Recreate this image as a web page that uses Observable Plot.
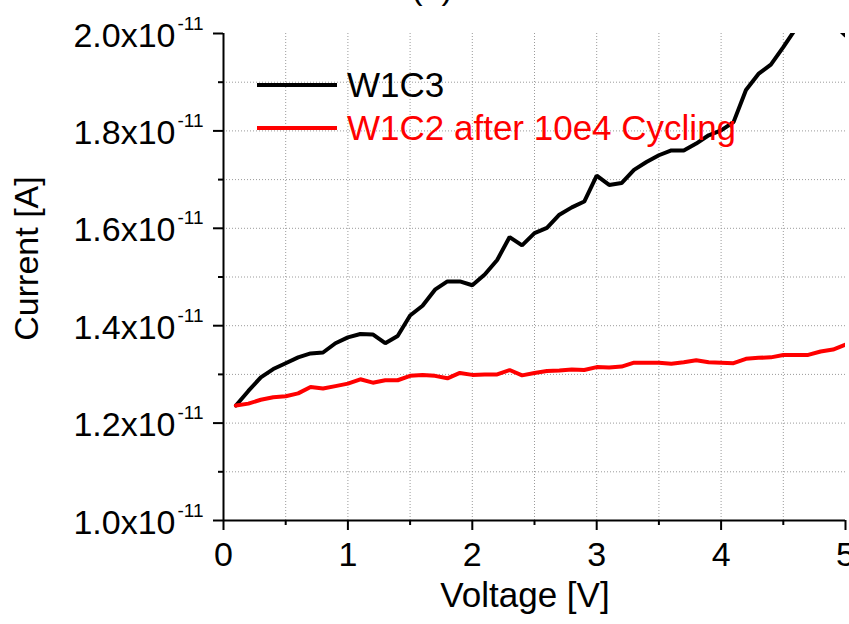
<!DOCTYPE html>
<html>
<head>
<meta charset="utf-8">
<script src="https://cdn.jsdelivr.net/npm/d3@7"></script>
<script src="https://cdn.jsdelivr.net/npm/@observablehq/plot@0.6"></script>
<style>
  html, body { margin: 0; padding: 0; background: #fff; }
  #wrap { position: relative; width: 849px; height: 624px; overflow: hidden; }
  #overlay { position: absolute; left: 0; top: 0; pointer-events: none; }
  text { font-family: "Liberation Sans", Arial, Helvetica, sans-serif; }
</style>
</head>
<body>
<div id="wrap"></div>
<script>
// Voltage sweep steps [V]
const voltage = [
  0.1, 0.2, 0.3, 0.4, 0.5, 0.6, 0.7, 0.8, 0.9, 1.0,
  1.1, 1.2, 1.3, 1.4, 1.5, 1.6, 1.7, 1.8, 1.9, 2.0,
  2.1, 2.2, 2.3, 2.4, 2.5, 2.6, 2.7, 2.8, 2.9, 3.0,
  3.1, 3.2, 3.3, 3.4, 3.5, 3.6, 3.7, 3.8, 3.9, 4.0,
  4.1, 4.2, 4.3, 4.4, 4.5, 4.6, 4.7, 4.8, 4.9, 5.0
];

// Measured current, in units of 1e-11 A
const currentW1C3 = [
  1.236, 1.266, 1.294, 1.311, 1.323, 1.335, 1.343, 1.345, 1.364, 1.376,
  1.383, 1.382, 1.364, 1.379, 1.421, 1.441, 1.474, 1.491, 1.491, 1.483,
  1.505, 1.535, 1.582, 1.565, 1.590, 1.601, 1.628, 1.643, 1.655, 1.708,
  1.689, 1.693, 1.720, 1.736, 1.750, 1.760, 1.760, 1.774, 1.791, 1.801,
  1.818, 1.884, 1.917, 1.936, 1.972, 2.010, 2.040, 2.055, 2.020, 1.996
];
const currentW1C2 = [
  1.236, 1.240, 1.248, 1.253, 1.255, 1.261, 1.274, 1.271, 1.276, 1.281,
  1.290, 1.283, 1.288, 1.288, 1.297, 1.299, 1.297, 1.292, 1.303, 1.299,
  1.300, 1.300, 1.309, 1.298, 1.303, 1.307, 1.308, 1.310, 1.309, 1.315,
  1.314, 1.316, 1.324, 1.324, 1.324, 1.322, 1.325, 1.329, 1.325, 1.324,
  1.323, 1.332, 1.334, 1.335, 1.340, 1.340, 1.340, 1.347, 1.351, 1.361
];

const unit = 1e-11;
const seriesNames = ["W1C3", "W1C2 after 10e4 Cycling"];
const seriesColors = ["#000000", "#ff0000"];

// Axis ticks
const xMajor = [0, 1, 2, 3, 4, 5];
const xMinor = [0.5, 1.5, 2.5, 3.5, 4.5];
const yMajor = [1.0, 1.2, 1.4, 1.6, 1.8, 2.0];
const yMinor = [1.1, 1.3, 1.5, 1.7, 1.9];
const xGrid = [0.5, 1, 1.5, 2, 2.5, 3, 3.5, 4, 4.5];
const yGrid = [1.1, 1.2, 1.3, 1.4, 1.5, 1.6, 1.7, 1.8, 1.9];

const rows = (vals, name) => voltage.map((v, i) => ({v, i: vals[i] * unit, name}));
const w1c3 = rows(currentW1C3, seriesNames[0]);
const w1c2 = rows(currentW1C2, seriesNames[1]);

const grid = {stroke: "#9a9a9a", strokeWidth: 1, strokeDasharray: "1,2"};
const font = "'Liberation Sans', Arial, Helvetica, sans-serif";

const chart = Plot.plot({
  width: 849,
  height: 624,
  marginLeft: 223,
  marginRight: 4,
  marginTop: 33,
  marginBottom: 104,
  style: {fontFamily: font, background: "#fff", color: "#000"},
  x: {domain: [0, 5]},
  y: {domain: [1.0 * unit, 2.0 * unit]},
  marks: [
    // dotted grid
    Plot.ruleX(xGrid, {x: d => d, ...grid}),
    Plot.ruleY(yGrid, {y: d => d * unit, ...grid}),
    // axis lines
    Plot.ruleX([0], {strokeWidth: 2}),
    Plot.ruleY([1.0 * unit], {strokeWidth: 2}),
    // outward ticks
    Plot.axisX(xMajor, {anchor: "bottom", tickSize: 10, strokeWidth: 2, tickFormat: () => "", label: null}),
    Plot.axisX(xMinor, {anchor: "bottom", tickSize: 5, strokeWidth: 2, tickFormat: () => "", label: null}),
    Plot.axisY(yMajor.map(d => d * unit), {anchor: "left", tickSize: 10, strokeWidth: 2, tickFormat: () => "", label: null}),
    Plot.axisY(yMinor.map(d => d * unit), {anchor: "left", tickSize: 5, strokeWidth: 2, tickFormat: () => "", label: null}),
    // tick labels
    Plot.text(xMajor, {
      x: d => d, frameAnchor: "bottom", text: d => String(d),
      lineAnchor: "bottom", dy: 45, fontSize: 34, fill: "#000"
    }),
    Plot.text(yMajor, {
      y: d => d * unit, frameAnchor: "left", text: d => d.toFixed(1) + "x10",
      textAnchor: "end", lineAnchor: "bottom", dx: -48, dy: 13, fontSize: 34, fill: "#000"
    }),
    Plot.text(yMajor, {
      y: d => d * unit, frameAnchor: "left", text: () => "-11",
      textAnchor: "start", lineAnchor: "bottom", dx: -46, dy: -4, fontSize: 19, fill: "#000"
    }),
    // measured curves
    Plot.line(w1c3, {x: "v", y: "i", stroke: seriesColors[0], strokeWidth: 4, strokeLinejoin: "miter", clip: true}),
    Plot.line(w1c2, {x: "v", y: "i", stroke: seriesColors[1], strokeWidth: 4, strokeLinejoin: "miter", clip: true})
  ]
});

const wrap = document.getElementById("wrap");
wrap.appendChild(chart);

// Titles and legend layered over the plot
const ns = "http://www.w3.org/2000/svg";
const overlay = document.createElementNS(ns, "svg");
overlay.setAttribute("id", "overlay");
overlay.setAttribute("width", 849);
overlay.setAttribute("height", 624);
function addText(str, attrs) {
  const t = document.createElementNS(ns, "text");
  for (const k in attrs) t.setAttribute(k, attrs[k]);
  t.textContent = str;
  overlay.appendChild(t);
  return t;
}
function addLine(attrs) {
  const l = document.createElementNS(ns, "line");
  for (const k in attrs) l.setAttribute(k, attrs[k]);
  overlay.appendChild(l);
}
addText("(a)", {x: 432, y: -1, "text-anchor": "middle", "font-size": 34, fill: "#000"});
addText("Voltage [V]", {x: 525, y: 607, "text-anchor": "middle", "font-size": 35, fill: "#000"});
addText("Current [A]", {transform: "translate(38,258.5) rotate(-90)", "text-anchor": "middle", "font-size": 34, fill: "#000"});

const legendRows = [{y: 85, base: 96.5}, {y: 128, base: 140}];
seriesNames.forEach((name, k) => {
  addLine({x1: 257, x2: 337, y1: legendRows[k].y, y2: legendRows[k].y, stroke: seriesColors[k], "stroke-width": 4});
  addText(name, {x: 347, y: legendRows[k].base, "font-size": 35, fill: seriesColors[k]});
});
wrap.appendChild(overlay);
</script>
</body>
</html>
